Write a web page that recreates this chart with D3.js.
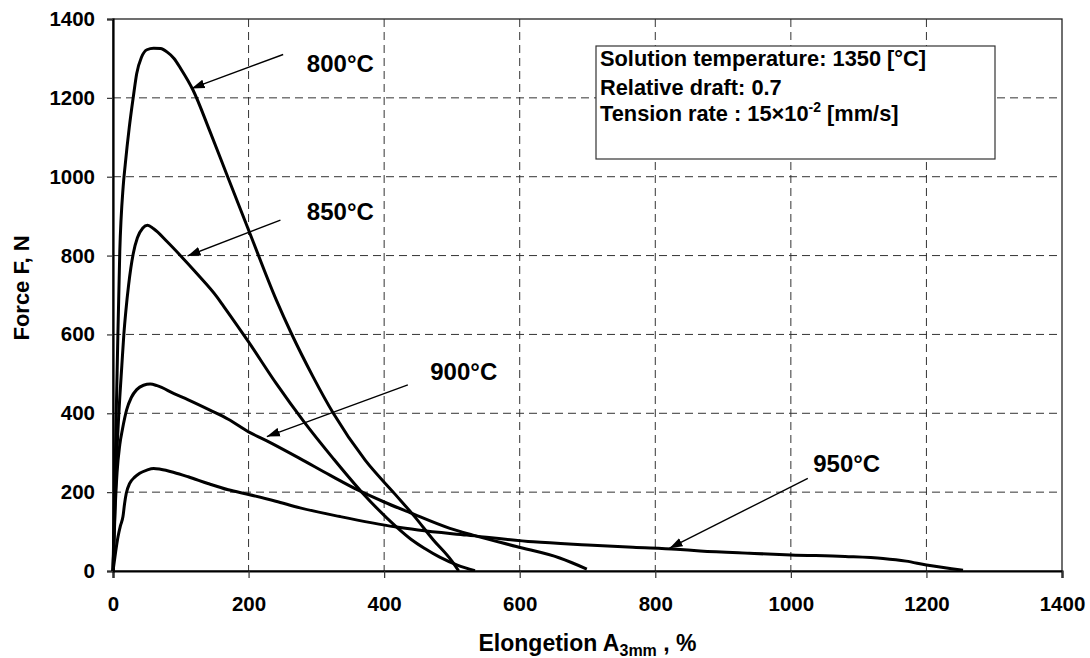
<!DOCTYPE html>
<html>
<head>
<meta charset="utf-8">
<script src="https://cdn.jsdelivr.net/npm/d3@7"></script>
<style>
    body { margin: 0; background: #fff; }
    svg { display: block; font-family: "Liberation Sans", Arial, sans-serif; font-weight: bold; }
</style>
</head>
<body>
<div id="chart"></div>
<script>
// Force vs elongation curves, one per test temperature
const xTicks = [0, 200, 400, 600, 800, 1000, 1200, 1400];
const yTicks = [0, 200, 400, 600, 800, 1000, 1200, 1400];

const curve800 = [[0,0],[3,250],[6,500],[10,810],[15,975],[18,1030],[24,1125],[30,1203],[35,1262],
    [42,1303],[50,1322],[60,1326],[70,1325],[80,1316],[90,1300],[100,1274],[118,1220],[143,1115],[168,1005],
    [200,865],[241,687],[263,603],[295,493],[325,400],[372,281],[416,195],[445,138],[472,80],[500,25],[510,0]];

const curve850 = [[0,0],[3,170],[5,270],[8,380],[10,440],[13,520],[16,600],[19,660],[23,725],[30,806],
    [36,845],[44,870],[51,877],[60,868],[80,835],[99,801],[125,752],[153,696],[163,672],[200,581],
    [241,475],[281,380],[325,285],[367,200],[418,112],[440,80],[460,57],[482,35],[508,15],[534,1]];

const curve900 = [[0,0],[3,150],[6,250],[10,320],[14,360],[20,408],[27,440],[35,460],[45,471],
    [55,474],[65,470],[90,450],[111,434],[143,408],[170,385],[200,353],[227,330],[276,285],[320,243],
    [364,203],[400,175],[438,148],[497,108],[531,91],[595,62],[659,33],[699,5]];

const curve950 = [[0,0],[4,50],[7.4,87],[11,115],[14.7,138],[17,170],[19.6,197],[24.6,222],[32,238],[39.4,248],
    [50,256],[60,260],[70,258],[90,250],[111,239],[140,222],[170,206],[200,194],[240,177],[276,160],
    [335,138],[416,112],[450,104],[522,91],[620,74],[700,66],[767,60],[831,55],[866,51],[939,45],
    [1000,40.6],[1080,37],[1136,32],[1170,25],[1200,15],[1254,2]];

const series = [curve800, curve850, curve900, curve950];

// label text, label anchor (x, y), arrow start (x, y), arrow tip (x, y) in data units
const labels = ['800°C', '850°C', '900°C', '950°C'];
const labelPos = [[286, 1266], [286, 890], [468, 484], [1033, 252]];
const arrowFrom = [[251, 1310], [247, 890], [435, 472], [1025, 235]];
const arrowTo = [[116, 1224], [110, 799], [227, 341], [821, 58]];

const infoLines = ['Solution temperature: 1350 [°C]', 'Relative draft: 0.7'];

const width = 1090, height = 658;
const margin = { top: 19, right: 28, bottom: 87, left: 113 };
const w = width - margin.left - margin.right;
const h = height - margin.top - margin.bottom;

const svg = d3.select('#chart').append('svg')
    .attr('width', width)
    .attr('height', height);

svg.append('defs').append('marker')
    .attr('id', 'arrow')
    .attr('markerUnits', 'userSpaceOnUse')
    .attr('viewBox', '0 -5 13 10')
    .attr('refX', 13).attr('refY', 0)
    .attr('markerWidth', 13).attr('markerHeight', 10)
    .attr('orient', 'auto')
    .append('path')
    .attr('d', 'M0,-4.5L13,0L0,4.5Z')
    .attr('fill', '#000');

const g = svg.append('g').attr('transform', `translate(${margin.left},${margin.top})`);

const x = d3.scaleLinear().domain([0, 1400]).range([0, w]);
const y = d3.scaleLinear().domain([0, 1400]).range([h, 0]);

// grid
g.append('g').selectAll('line')
    .data(xTicks.filter(d => d > 0 && d < 1400))
    .join('line')
    .attr('x1', d => x(d)).attr('x2', d => x(d))
    .attr('y1', 0).attr('y2', h)
    .attr('stroke', '#333').attr('stroke-width', 1)
    .attr('stroke-dasharray', '8,5');

g.append('g').selectAll('line')
    .data(yTicks.filter(d => d > 0 && d < 1400))
    .join('line')
    .attr('x1', 0).attr('x2', w)
    .attr('y1', d => y(d)).attr('y2', d => y(d))
    .attr('stroke', '#333').attr('stroke-width', 1)
    .attr('stroke-dasharray', '8,5');

// plot frame
g.append('rect')
    .attr('width', w).attr('height', h)
    .attr('fill', 'none')
    .attr('stroke', '#222').attr('stroke-width', 1.3);

// axes
const fmt = d3.format('d');
const xAxis = g.append('g')
    .attr('transform', `translate(0,${h})`)
    .call(d3.axisBottom(x).tickValues(xTicks).tickFormat(fmt).tickSize(7).tickPadding(18));

const yAxis = g.append('g')
    .call(d3.axisLeft(y).tickValues(yTicks).tickFormat(fmt).tickSize(6).tickPadding(12));

[xAxis, yAxis].forEach(a => {
    a.select('.domain').attr('stroke', '#000').attr('stroke-width', 2.2);
    a.selectAll('.tick line').attr('stroke', '#333').attr('stroke-width', 1.2);
    a.selectAll('.tick text')
        .attr('font-family', '"Liberation Sans", Arial, sans-serif')
        .attr('font-weight', 'bold')
        .attr('font-size', 20.5)
        .attr('fill', '#000');
});

// curves
const line = d3.line()
    .x(d => x(d[0]))
    .y(d => y(d[1]))
    .curve(d3.curveMonotoneX);

g.append('g').selectAll('path')
    .data(series)
    .join('path')
    .attr('d', line)
    .attr('fill', 'none')
    .attr('stroke', '#000')
    .attr('stroke-width', 3)
    .attr('stroke-linejoin', 'round');

// legend box
const box = g.append('g').attr('transform', 'translate(483,27)');
box.append('rect')
    .attr('width', 399).attr('height', 113)
    .attr('fill', '#fff')
    .attr('stroke', '#333').attr('stroke-width', 1.2);

box.selectAll('text.info')
    .data(infoLines)
    .join('text')
    .attr('class', 'info')
    .attr('x', 4)
    .attr('y', (d, i) => 20 + i * 29)
    .attr('font-size', 21.8)
    .text(d => d);

const tension = box.append('text')
    .attr('x', 4).attr('y', 75)
    .attr('font-size', 21.8);
tension.append('tspan').text('Tension rate : 15×10');
tension.append('tspan').attr('font-size', 14).attr('dy', -9).text('-2');
tension.append('tspan').attr('dy', 9).text(' [mm/s]');

// annotations
g.append('g').selectAll('line')
    .data(arrowFrom)
    .join('line')
    .attr('x1', d => x(d[0])).attr('y1', d => y(d[1]))
    .attr('x2', (d, i) => x(arrowTo[i][0])).attr('y2', (d, i) => y(arrowTo[i][1]))
    .attr('stroke', '#000').attr('stroke-width', 1.4)
    .attr('marker-end', 'url(#arrow)');

g.append('g').selectAll('text')
    .data(labels)
    .join('text')
    .attr('x', (d, i) => x(labelPos[i][0]))
    .attr('y', (d, i) => y(labelPos[i][1]))
    .attr('font-size', 24)
    .text(d => d);

// axis titles
const xt = svg.append('text')
    .attr('x', margin.left + w / 2)
    .attr('y', 651)
    .attr('text-anchor', 'middle')
    .attr('font-size', 23);
xt.append('tspan').text('Elongetion A');
xt.append('tspan').attr('font-size', 16).attr('dy', 5).text('3mm');
xt.append('tspan').attr('dy', -5).text(' , %');

svg.append('text')
    .attr('transform', `translate(29,${margin.top + h / 2 - 7}) rotate(-90)`)
    .attr('text-anchor', 'middle')
    .attr('font-size', 22)
    .text('Force F, N');
</script>
</body>
</html>
